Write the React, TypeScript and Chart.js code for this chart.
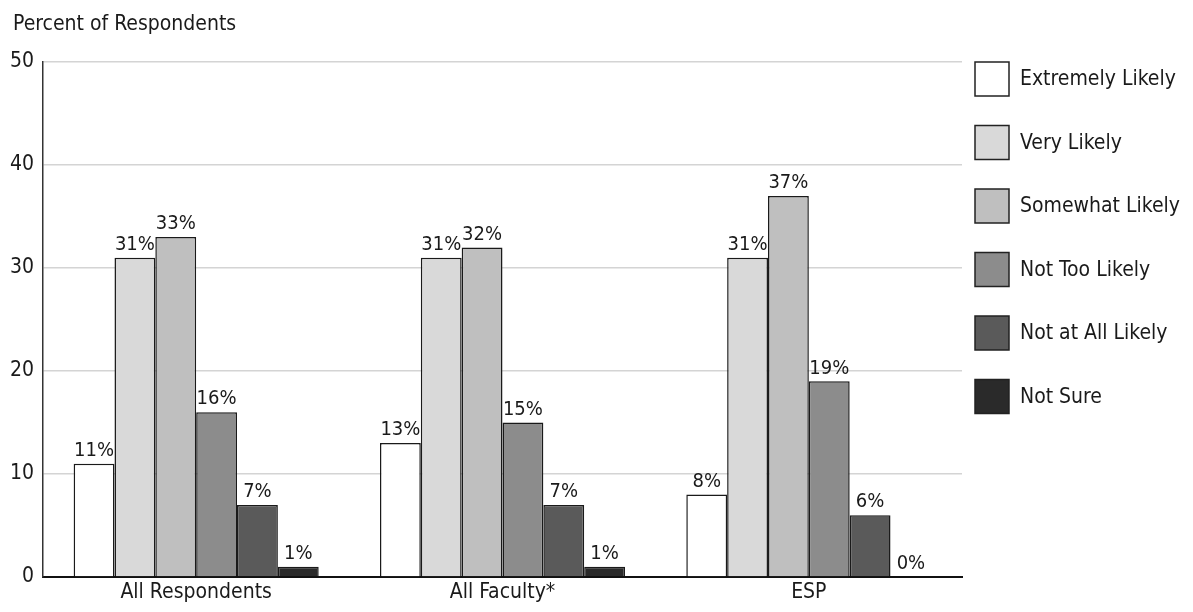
import React, { useEffect, useRef } from "react";
import { Chart, registerables } from "chart.js";

Chart.register(...registerables);

const categories = ["All Respondents", "All Faculty*", "ESP"];
const seriesNames = [
  "Extremely Likely",
  "Very Likely",
  "Somewhat Likely",
  "Not Too Likely",
  "Not at All Likely",
  "Not Sure",
];
const extremelyLikely = [11, 13, 8];
const veryLikely = [31, 31, 31];
const somewhatLikely = [33, 32, 37];
const notTooLikely = [16, 15, 19];
const notAtAllLikely = [7, 7, 6];
const notSure = [1, 1, 0];
const seriesColors = ["#ffffff", "#d9d9d9", "#bfbfbf", "#8c8c8c", "#5a5a5a", "#2a2a2a"];
const yTicks = [0, 10, 20, 30, 40, 50];
const axisTitle = "Percent of Respondents";

const FONT = "'Liberation Sans Narrow', 'DejaVu Sans Condensed', sans-serif";
const TEXT = "#1a1a1a";

// Value labels above each bar, e.g. "31%"
const valueLabels = {
  id: "valueLabels",
  afterDatasetsDraw(chart: any) {
    const ctx = chart.ctx;
    ctx.save();
    ctx.font = `20px ${FONT}`;
    ctx.fillStyle = TEXT;
    ctx.textAlign = "center";
    ctx.textBaseline = "bottom";
    chart.data.datasets.forEach((ds: any, i: number) => {
      const meta = chart.getDatasetMeta(i);
      meta.data.forEach((bar: any, j: number) => {
        ctx.fillText(`${ds.data[j]}%`, bar.x, bar.y - 3);
      });
    });
    ctx.restore();
  },
};

// Axis caption and the vertical legend on the right
const sideDecor = {
  id: "sideDecor",
  afterDraw(chart: any) {
    const ctx = chart.ctx;
    const area = chart.chartArea;
    ctx.save();
    ctx.font = `21px ${FONT}`;
    ctx.fillStyle = TEXT;
    ctx.textAlign = "left";
    ctx.textBaseline = "middle";
    ctx.fillText(axisTitle, 5, 17);

    const box = 34;
    const step = 63.5;
    chart.data.datasets.forEach((ds: any, i: number) => {
      const x = area.right + 13;
      const y = area.top + i * step;
      ctx.fillStyle = ds.backgroundColor;
      ctx.fillRect(x, y, box, box);
      ctx.lineWidth = 1.5;
      ctx.strokeStyle = "#222";
      ctx.strokeRect(x, y, box, box);
      ctx.fillStyle = TEXT;
      ctx.font = `21px ${FONT}`;
      ctx.fillText(ds.label, area.right + 58, y + box / 2 + 1);
    });
    ctx.restore();
  },
};

const seriesData = [extremelyLikely, veryLikely, somewhatLikely, notTooLikely, notAtAllLikely, notSure];

export default function App() {
  const ref = useRef<HTMLCanvasElement | null>(null);

  useEffect(() => {
    if (!ref.current) return;
    const chart = new Chart(ref.current, {
      type: "bar",
      data: {
        labels: categories,
        datasets: seriesNames.map((name, i) => ({
          label: name,
          data: seriesData[i],
          backgroundColor: seriesColors[i],
          borderColor: "#1a1a1a",
          borderWidth: 1.5,
          categoryPercentage: 0.8,
          barPercentage: 1.0,
        })),
      },
      options: {
        animation: false,
        responsive: true,
        maintainAspectRatio: false,
        layout: { padding: { top: 54, right: 223, left: 0, bottom: 0 } },
        plugins: {
          legend: { display: false },
          tooltip: { enabled: false },
          title: { display: false },
        },
        scales: {
          x: {
            grid: { display: false, drawTicks: false },
            border: { display: true, color: "#111", width: 2 },
            ticks: {
              color: TEXT,
              font: { family: FONT, size: 21 },
              padding: 3,
            },
            afterFit: (scale: any) => {
              scale.height = 27;
            },
          },
          y: {
            min: 0,
            max: 50,
            afterBuildTicks: (scale: any) => {
              scale.ticks = yTicks.map((v) => ({ value: v }));
            },
            grid: { color: "#d4d4d4", lineWidth: 1.5, drawTicks: false },
            border: { display: true, color: "#333", width: 1.5 },
            ticks: {
              color: TEXT,
              font: { family: FONT, size: 21 },
              padding: 9,
            },
            afterFit: (scale: any) => {
              scale.width = 35;
            },
          },
        },
      },
      plugins: [valueLabels, sideDecor],
    });
    return () => chart.destroy();
  }, []);

  return (
    <div style={{ width: "1177px", height: "596px", position: "relative" }}>
      <canvas ref={ref} />
    </div>
  );
}
